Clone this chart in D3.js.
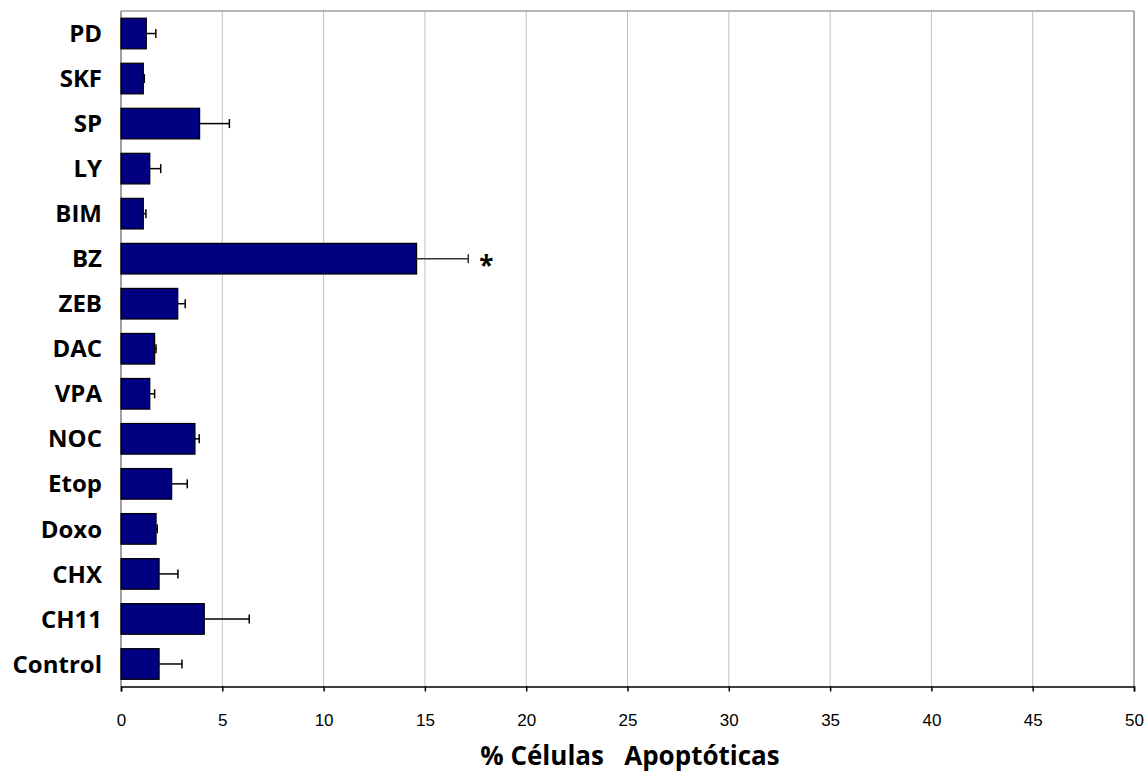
<!DOCTYPE html>
<html>
<head>
<meta charset="utf-8">
<script src="https://cdn.jsdelivr.net/npm/d3@7"></script>
<style>
  html, body { margin: 0; padding: 0; background: #fff; }
  svg { display: block; }
</style>
</head>
<body>
<svg id="chart" width="1148" height="773"></svg>
<script>
// Data (top to bottom as displayed)
const categories = ["PD", "SKF", "SP", "LY", "BIM", "BZ", "ZEB", "DAC", "VPA", "NOC", "Etop", "Doxo", "CHX", "CH11", "Control"];
const values     = [1.25, 1.10, 3.88, 1.42, 1.10, 14.59, 2.80, 1.66, 1.42, 3.65, 2.50, 1.73, 1.88, 4.11, 1.88];
const errors     = [0.47, 0.05, 1.47, 0.54, 0.13, 2.55, 0.37, 0.07, 0.24, 0.21, 0.77, 0.06, 0.93, 2.22, 1.13];
const significant = ["BZ"];
const xTicks = [0, 5, 10, 15, 20, 25, 30, 35, 40, 45, 50];
const xTitle = "% Células   Apoptóticas";

const svg = d3.select("#chart");
const mLeft = 121, mRight = 1134, mTop = 11, mBottom = 686.5;

const x = d3.scaleLinear().domain([0, 50]).range([mLeft, mRight]);
const y = d3.scaleBand().domain(categories).range([mTop, mBottom]).paddingInner(0.32).paddingOuter(0.16);

// gridlines
svg.append("g").selectAll("line").data(xTicks.filter(d => d > 0 && d < 50)).join("line")
  .attr("x1", d => x(d)).attr("x2", d => x(d))
  .attr("y1", mTop).attr("y2", mBottom)
  .attr("stroke", "#c0c0c0").attr("stroke-width", 1);

// frame
svg.append("line").attr("x1", mLeft).attr("x2", mRight).attr("y1", mTop).attr("y2", mTop)
  .attr("stroke", "#a0a0a0").attr("stroke-width", 1.5);
svg.append("line").attr("x1", mRight).attr("x2", mRight).attr("y1", mTop).attr("y2", mBottom)
  .attr("stroke", "#909090").attr("stroke-width", 1.5);
svg.append("line").attr("x1", mLeft).attr("x2", mLeft).attr("y1", mTop).attr("y2", mBottom)
  .attr("stroke", "#808080").attr("stroke-width", 1.5);

// bars
svg.append("g").selectAll("rect").data(categories).join("rect")
  .attr("x", x(0))
  .attr("y", d => y(d))
  .attr("width", (d, i) => x(values[i]) - x(0))
  .attr("height", y.bandwidth())
  .attr("fill", "#000080")
  .attr("stroke", "#000")
  .attr("stroke-width", 1.2);

// error bars (positive side)
const eg = svg.append("g");
categories.forEach((c, i) => {
  const cy = y(c) + y.bandwidth() / 2;
  const x1 = x(values[i]), x2 = x(values[i] + errors[i]);
  const col = c === "BZ" ? "#333" : "#000";
  eg.append("line").attr("x1", x1).attr("x2", x2).attr("y1", cy).attr("y2", cy)
    .attr("stroke", col).attr("stroke-width", 1.5);
  eg.append("line").attr("x1", x2).attr("x2", x2).attr("y1", cy - 4.5).attr("y2", cy + 4.5)
    .attr("stroke", col).attr("stroke-width", 1.5);
});

// significance marker
categories.forEach((c, i) => {
  if (significant.includes(c)) {
    svg.append("text")
      .attr("x", x(values[i] + errors[i]) + 18)
      .attr("y", y(c) + y.bandwidth() / 2 + 16)
      .attr("text-anchor", "middle")
      .attr("font-family", "'Open Sans', sans-serif")
      .attr("font-weight", "bold")
      .attr("font-size", 26)
      .text("*");
  }
});

// x axis
const xAxis = d3.axisBottom(x).tickValues(xTicks).tickSize(5).tickPadding(22.5).tickFormat(d3.format("d"));
const gx = svg.append("g").attr("transform", `translate(0,${mBottom})`).call(xAxis);
gx.select(".domain").attr("stroke", "#000").attr("stroke-width", 1.5);
gx.selectAll(".tick line").attr("stroke", "#000").attr("stroke-width", 1.5);
gx.selectAll(".tick text").attr("font-family", "'Liberation Sans', Arial, sans-serif")
  .attr("font-size", 17).attr("fill", "#000");

// y labels
svg.append("g").selectAll("text").data(categories).join("text")
  .attr("x", 102)
  .attr("y", d => y(d) + y.bandwidth() / 2)
  .attr("dy", "0.36em")
  .attr("text-anchor", "end")
  .attr("font-family", "'Open Sans', sans-serif")
  .attr("font-weight", "bold")
  .attr("font-size", 24)
  .attr("fill", "#000")
  .text(d => d);

// x title
svg.append("text")
  .attr("x", 630)
  .attr("y", 765)
  .attr("text-anchor", "middle")
  .attr("font-family", "'Open Sans', sans-serif")
  .attr("font-weight", "bold")
  .attr("font-size", 26)
  .style("white-space", "pre")
  .attr("xml:space", "preserve")
  .text(xTitle);
</script>
</body>
</html>
